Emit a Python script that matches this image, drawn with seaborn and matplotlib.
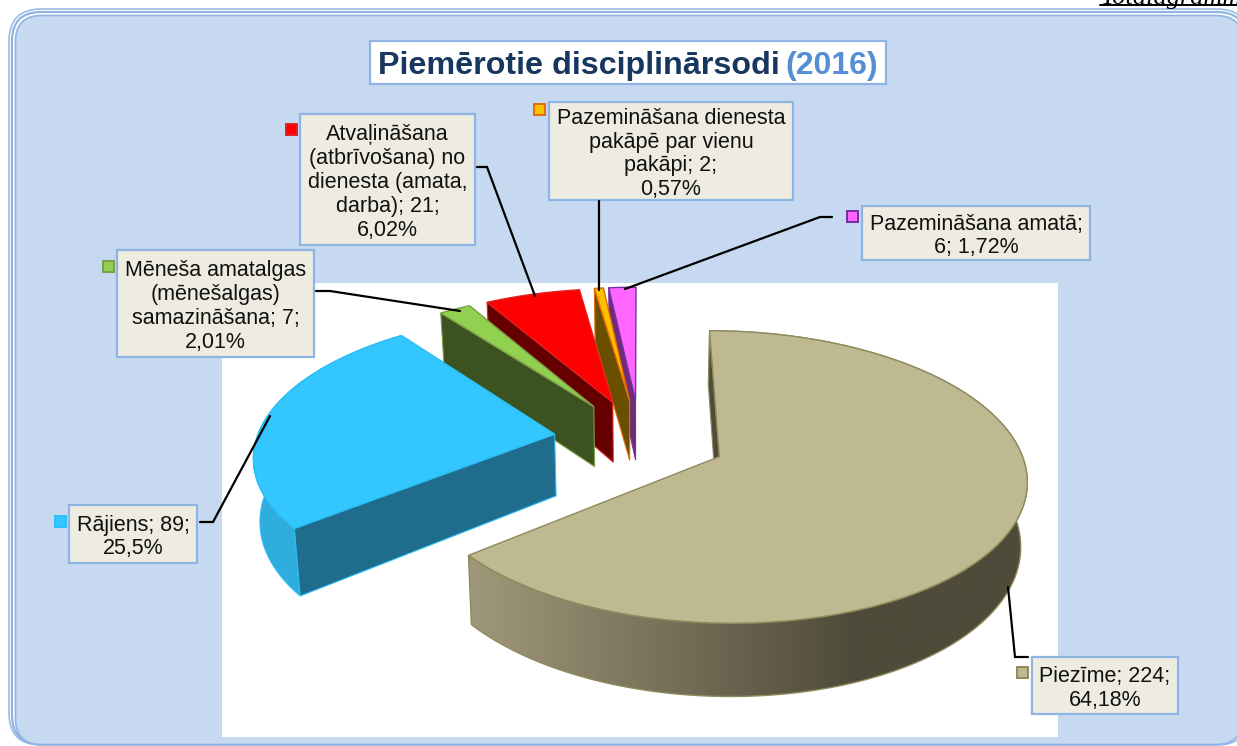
import numpy as np
import pandas as pd
import seaborn as sns
import matplotlib.pyplot as plt
from matplotlib.colors import LinearSegmentedColormap
from matplotlib.patches import FancyBboxPatch, Polygon, Rectangle

# dati
categories = ["Piezīme", "Rājiens", "Mēneša amatalgas", "Atvaļināšana",
              "Pazemināšana dienesta pakāpē", "Pazemināšana amatā"]
counts = [224, 89, 7, 21, 2, 6]
percents = ["64,18%", "25,5%", "2,01%", "6,02%", "0,57%", "1,72%"]
labels = [
    "Piezīme; 224;\n64,18%",
    "Rājiens; 89;\n25,5%",
    "Mēneša amatalgas\n(mēnešalgas)\nsamazināšana; 7;\n2,01%",
    "Atvaļināšana\n(atbrīvošana) no\ndienesta (amata,\ndarba); 21;\n6,02%",
    "Pazemināšana dienesta\npakāpē par vienu\npakāpi; 2;\n0,57%",
    "Pazemināšana amatā;\n6; 1,72%",
]
title_main = "Piemērotie disciplinārsodi"
title_year = "(2016)"

# krāsas
top_colors = sns.color_palette(["#BFB992", "#33C6FF", "#92D050", "#FF0000", "#FFC000", "#FF66FF"])
wall_colors = sns.color_palette(["#4F4B3A", "#1F6C8C", "#3C5220", "#660000", "#6B4F00", "#6E2C78"])
arc_colors = sns.color_palette(["#4F4B3A", "#2FAEDD", "#3C5220", "#660000", "#6B4F00", "#6E2C78"])
edge_colors = sns.color_palette(["#8F8A5B", "#2ABFF5", "#7E9E48", "#E02020", "#E36C0A", "#7030A0"])

# izkārtojums pikseļos
boxes = [(1032, 657, 146, 57), (69, 505, 128, 58), (117, 250, 197, 107),
         (300, 114, 175, 131), (549, 102, 244, 98), (862, 206, 228, 54)]
keys = [(1017, 667), (55, 516), (103, 261), (286, 124), (534, 104), (847, 211)]
leaders = [
    [(1008, 587), (1015, 657), (1028, 657)],
    [(270, 416), (213, 522), (200, 522)],
    [(460, 311), (330, 291), (316, 291)],
    [(535, 296), (487, 167), (477, 167)],
    [(599, 290), (599, 201)],
    [(625, 289), (820, 217), (832, 217)],
]

# projekcija
CX, CY = 640, 439
A, B, K = 298, 138.5, 0.137
DEPTH = 62
SHRINK = 0.983
EXPLODE = 0.29

sns.set_theme(style="white")
plt.rcParams["font.family"] = ["Liberation Sans", "DejaVu Sans"]

df = pd.DataFrame({"cat": categories, "count": counts, "pct": percents})
df["sweep"] = df["count"] / df["count"].sum() * 360
df["end"] = df["sweep"].cumsum()
df["start"] = df["end"] - df["sweep"]


def project(px, pv, bottom=False):
    w = 1 - K * pv
    if bottom:
        return CX + A * SHRINK * px / w, CY + B * pv / w + DEPTH / w
    return CX + A * px / w, CY + B * pv / w


def arc(row, n=200):
    th = np.radians(np.linspace(row["start"], row["end"], n))
    mid = np.radians((row["start"] + row["end"]) / 2)
    ex, ev = EXPLODE * np.sin(mid), -EXPLODE * np.cos(mid)
    return ex + np.sin(th), ev - np.cos(th), ex, ev


fig = plt.figure(figsize=(12.37, 7.46), dpi=100)
ax = fig.add_axes([0, 0, 1, 1])
ax.set_xlim(0, 1237)
ax.set_ylim(746, 0)
ax.axis("off")

# rāmis
ax.add_patch(FancyBboxPatch((9, 9), 1240, 736, boxstyle="round,pad=0,rounding_size=32",
                            fc="white", ec="#9DBCE6", lw=1.2))
ax.add_patch(FancyBboxPatch((12, 12), 1234, 732, boxstyle="round,pad=0,rounding_size=29",
                            fc="none", ec="#8FB4E3", lw=1.6))
ax.add_patch(FancyBboxPatch((15.5, 15.5), 1227, 729, boxstyle="round,pad=0,rounding_size=26",
                            fc="#C6D9F1", ec="#8FB4E3", lw=1.2))
ax.add_patch(Rectangle((222, 283), 836, 454, fc="white", ec="none"))

# augšējais teksts
ax.plot([1100, 1237], [5, 5], color="black", lw=1.4)
ax.text(1100, 4, "Totalagramm", family="Liberation Serif", style="italic",
        fontsize=19, ha="left", va="baseline", color="black", clip_on=True)

wall_cmap = LinearSegmentedColormap.from_list("wall", ["#A0987A", "#4F4B3A"])

# šķēles no aizmugures uz priekšu
for i in [5, 4, 3, 2, 1, 0]:
    row = df.iloc[i]
    px, pv, ex, ev = arc(row)
    tx, ty = project(px, pv)
    bx, by = project(px, pv, bottom=True)
    ax_, ay_ = project(ex, ev)
    bax, bay = project(ex, ev, bottom=True)

    # ārējā siena (redzama tikai divām lielākajām)
    outer = list(zip(tx, ty)) + list(zip(bx[::-1], by[::-1]))
    if i == 0:
        # pāreja no gaišā uz tumšo pa kreisi -> pa labi
        grad = np.clip(np.linspace(0, 1.45, 256), 0, 1).reshape(1, -1)
        im = ax.imshow(grad, cmap=wall_cmap, extent=(468, 1030, 700, 450), aspect="auto",
                       vmin=0, vmax=1, zorder=1)
        clip = Polygon(outer, transform=ax.transData)
        im.set_clip_path(clip)
        ax.set_xlim(0, 1237)
        ax.set_ylim(746, 0)
        ax.add_patch(Polygon(outer, fc="none", ec=edge_colors[0], lw=1))
    elif i == 1:
        ax.add_patch(Polygon(outer, fc=arc_colors[i], ec=edge_colors[i], lw=0.8))

    # redzamā radiālā siena
    ax.add_patch(Polygon([(ax_, ay_), (tx[0], ty[0]), (bx[0], by[0]), (bax, bay)],
                         fc=wall_colors[i], ec=edge_colors[i], lw=0.8))

    # virsma
    ax.add_patch(Polygon([(ax_, ay_)] + list(zip(tx, ty)), fc=top_colors[i],
                         ec=edge_colors[i], lw=1))

# līnijas
for pts in leaders:
    xs, ys = zip(*pts)
    ax.plot(xs, ys, color="black", lw=1.6, solid_joinstyle="miter")

# uzraksti
for i in range(len(labels)):
    x, y, w, h = boxes[i]
    ax.add_patch(Rectangle((x, y), w, h, fc="#EEECE1", ec="#8DB4E2", lw=1.6))
    ax.text(x + w / 2, y + h / 2 + 3, labels[i], ha="center", va="center",
            fontsize=15.5, linespacing=1.18, color="#111111")
    kx, ky = keys[i]
    ax.add_patch(Rectangle((kx, ky), 11, 11, fc=top_colors[i], ec=edge_colors[i], lw=1.4))

# virsraksts
ax.add_patch(Rectangle((370, 41), 516, 43, fc="white", ec="#8DB4E2", lw=1.6))
ax.text(378, 62.5, title_main, ha="left", va="center_baseline", fontsize=23.2,
        fontweight="bold", color="#17375E")
ax.text(785, 62.5, title_year, ha="left", va="center_baseline", fontsize=23,
        fontweight="bold", color="#558ED5")

fig.savefig("out.png", dpi=100)
